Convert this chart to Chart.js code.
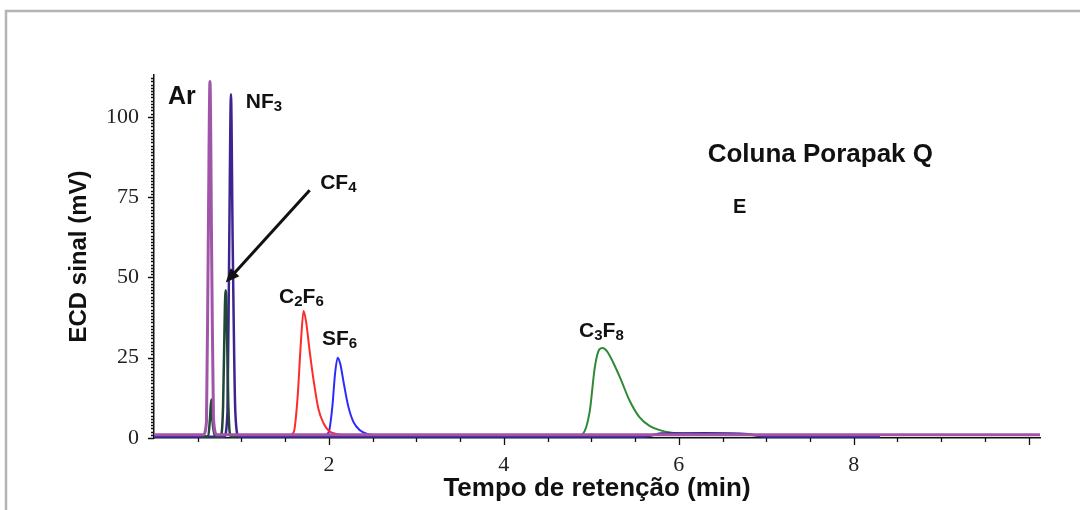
<!DOCTYPE html>
<html>
<head>
<meta charset="utf-8">
<title>ECD - Coluna Porapak Q</title>
<script src="https://cdn.jsdelivr.net/npm/chart.js@4.4.1/dist/chart.umd.min.js"></script>
<style>
  html, body { margin: 0; padding: 0; background: #fff; }
  #wrap { width: 1086px; height: 510px; position: relative; }
</style>
</head>
<body>
<div id="wrap"><canvas id="chrom" width="1086" height="510"></canvas></div>
<script>
// retention time (min) and ECD signal (mV) for each compound
const arTime = [0, 0.56, 0.60, 0.62, 0.64, 0.66, 0.68, 0.72, 10.13];
const arSignal = [1.0, 1.0, 5, 60, 111, 55, 6, 1.0, 1.0];

const nf3Time = [0, 0.80, 0.84, 0.86, 0.88, 0.90, 0.93, 0.97, 5.6, 5.8, 6.3, 6.8, 7.0, 8.3];
const nf3Signal = [0.4, 0.4, 8, 60, 107, 60, 8, 0.4, 0.4, 1.4, 1.5, 1.2, 0.4, 0.4];

const cf4Time = [0.55, 0.62, 0.64, 0.655, 0.67, 0.70, 0.76, 0.79, 0.81, 0.82, 0.83, 0.85, 0.88, 0.95];
const cf4Signal = [0.5, 0.5, 6, 12, 5, 0.5, 0.5, 10, 40, 46, 40, 10, 0.5, 0.5];

const c2f6Time = [1.55, 1.60, 1.64, 1.68, 1.71, 1.74, 1.78, 1.83, 1.88, 1.94, 2.00, 2.10, 2.20];
const c2f6Signal = [0.8, 2, 12, 30, 39.5, 36, 27, 17, 9, 4.5, 2.2, 1.2, 0.8];

const sf6Time = [1.95, 2.00, 2.04, 2.07, 2.10, 2.13, 2.17, 2.22, 2.28, 2.35, 2.45, 2.55];
const sf6Signal = [0.8, 2, 10, 20, 25, 23, 17, 10, 5, 2.5, 1.2, 0.8];

const c3f8Time = [4.85, 4.90, 4.98, 5.04, 5.09, 5.13, 5.18, 5.25, 5.33, 5.44, 5.55, 5.67, 5.80, 5.90, 6.10, 6.40, 6.80, 7.00];
const c3f8Signal = [0.8, 1.2, 8, 22, 27.5, 28, 27, 23.5, 18.7, 11.5, 6.5, 3.7, 2.3, 1.7, 1.2, 1.0, 0.9, 0.8];

const yTickLabels = [0, 25, 50, 75, 100];
const xTickLabels = [2, 4, 6, 8];

function pts(t, v) {
  return t.map((x, i) => ({ x: x, y: v[i] }));
}

function series(data, color, width) {
  return {
    data: data,
    borderColor: color,
    borderWidth: width,
    pointRadius: 0,
    fill: false,
    cubicInterpolationMode: 'monotone'
  };
}

// peak labels, drawn in data coordinates; digits become subscripts
const notes = [
  { text: 'Ar', x: 0.16, y: 106, size: 25 },
  { text: 'NF3', x: 1.05, y: 104.5, size: 21 },
  { text: 'CF4', x: 1.90, y: 79.3, size: 21 },
  { text: 'C2F6', x: 1.43, y: 43.8, size: 21 },
  { text: 'SF6', x: 1.92, y: 30.7, size: 21 },
  { text: 'C3F8', x: 4.86, y: 33.2, size: 21 },
  { text: 'Coluna Porapak Q', x: 6.33, y: 88, size: 26 },
  { text: 'E', x: 6.62, y: 71.8, size: 20 }
];

const extras = {
  id: 'extras',
  beforeDraw(chart) {
    const ctx = chart.ctx;
    ctx.save();
    ctx.fillStyle = '#fff';
    ctx.fillRect(0, 0, chart.width, chart.height);
    // frame around the figure
    ctx.strokeStyle = '#b4b4b4';
    ctx.lineWidth = 2.5;
    ctx.beginPath();
    ctx.moveTo(6, 510);
    ctx.lineTo(6, 11);
    ctx.lineTo(1080, 11);
    ctx.stroke();
    ctx.restore();
  },
  afterDraw(chart) {
    const ctx = chart.ctx;
    const xs = chart.scales.x, ys = chart.scales.y;
    const area = chart.chartArea;
    ctx.save();
    ctx.strokeStyle = '#111';
    ctx.lineWidth = 1.3;
    ctx.beginPath();
    // y ticks every 1 mV, longer at labelled values
    for (let v = 0; v <= 112; v++) {
      const py = Math.round(ys.getPixelForValue(v)) + 0.5;
      const len = v % 25 === 0 ? 6 : 3;
      ctx.moveTo(area.left, py);
      ctx.lineTo(area.left - len, py);
    }
    // x ticks every 0.5 min, longer at even minutes
    for (let v = 0.5; v <= 10.01; v += 0.5) {
      const px = Math.round(xs.getPixelForValue(v)) + 0.5;
      const len = Math.abs(v % 2) < 1e-6 ? 7 : 4;
      ctx.moveTo(px, area.bottom);
      ctx.lineTo(px, area.bottom + len);
    }
    ctx.stroke();

    // labels
    ctx.fillStyle = '#111';
    ctx.textBaseline = 'middle';
    ctx.textAlign = 'left';
    notes.forEach(n => {
      let px = xs.getPixelForValue(n.x);
      const py = ys.getPixelForValue(n.y);
      for (const ch of n.text) {
        const sub = /[0-9]/.test(ch);
        const size = sub ? Math.round(n.size * 0.72) : n.size;
        ctx.font = 'bold ' + size + 'px "Liberation Sans", Arial, sans-serif';
        ctx.fillText(ch, px, sub ? py + n.size * 0.2 : py);
        px += ctx.measureText(ch).width;
      }
    });

    // arrow pointing to the CF4 peak
    const x0 = xs.getPixelForValue(1.78), y0 = ys.getPixelForValue(77.1);
    const x1 = xs.getPixelForValue(0.82), y1 = ys.getPixelForValue(48.4);
    const ang = Math.atan2(y1 - y0, x1 - x0);
    const head = 15;
    ctx.strokeStyle = '#111';
    ctx.lineWidth = 3;
    ctx.beginPath();
    ctx.moveTo(x0, y0);
    ctx.lineTo(x1 - Math.cos(ang) * head * 0.8, y1 - Math.sin(ang) * head * 0.8);
    ctx.stroke();
    ctx.beginPath();
    ctx.moveTo(x1, y1);
    ctx.lineTo(x1 - head * Math.cos(ang - 0.4), y1 - head * Math.sin(ang - 0.4));
    ctx.lineTo(x1 - head * Math.cos(ang + 0.4), y1 - head * Math.sin(ang + 0.4));
    ctx.closePath();
    ctx.fill();
    ctx.restore();
  }
};

const ctx = document.getElementById('chrom').getContext('2d');

new Chart(ctx, {
  type: 'line',
  data: {
    datasets: [
      series(pts(arTime, arSignal), '#a055a8', 3),
      series(pts(cf4Time, cf4Signal), '#22463a', 2.5),
      series(pts(nf3Time, nf3Signal), '#3e2490', 2.5),
      series(pts(c2f6Time, c2f6Signal), '#ff2b2b', 2),
      series(pts(sf6Time, sf6Signal), '#2b2bff', 2),
      series(pts(c3f8Time, c3f8Signal), '#2f8a35', 2)
    ]
  },
  options: {
    responsive: false,
    animation: false,
    layout: { padding: { left: 0, top: 75, right: 46, bottom: 0 } },
    plugins: {
      legend: { display: false },
      tooltip: { enabled: false }
    },
    scales: {
      x: {
        type: 'linear',
        min: 0,
        max: 10.13,
        afterFit(scale) { scale.height = 72; },
        grid: { display: false, drawTicks: false },
        border: { display: true, color: '#111', width: 1.5 },
        ticks: {
          stepSize: 0.5,
          autoSkip: false,
          maxRotation: 0,
          padding: 14,
          color: '#222',
          font: { family: '"Liberation Serif", "Times New Roman", serif', size: 22 },
          callback: v => xTickLabels.includes(v) ? String(v) : ''
        },
        title: {
          display: true,
          text: 'Tempo de retenção (min)',
          color: '#111',
          font: { family: '"Liberation Sans", Arial, sans-serif', size: 26, weight: 'bold' },
          padding: { top: 0, bottom: 6 }
        }
      },
      y: {
        min: 0,
        max: 113,
        afterFit(scale) { scale.width = 154; },
        grid: { display: false, drawTicks: false },
        border: { display: true, color: '#111', width: 1.5 },
        ticks: {
          stepSize: 1,
          autoSkip: false,
          padding: 15,
          color: '#222',
          font: { family: '"Liberation Serif", "Times New Roman", serif', size: 22 },
          callback: v => yTickLabels.includes(v) ? String(v) : ''
        },
        title: {
          display: true,
          text: 'ECD sinal (mV)',
          color: '#111',
          font: { family: '"Liberation Sans", Arial, sans-serif', size: 24, weight: 'bold' },
          padding: { top: 65, bottom: 0 }
        }
      }
    }
  },
  plugins: [extras]
});
</script>
</body>
</html>
